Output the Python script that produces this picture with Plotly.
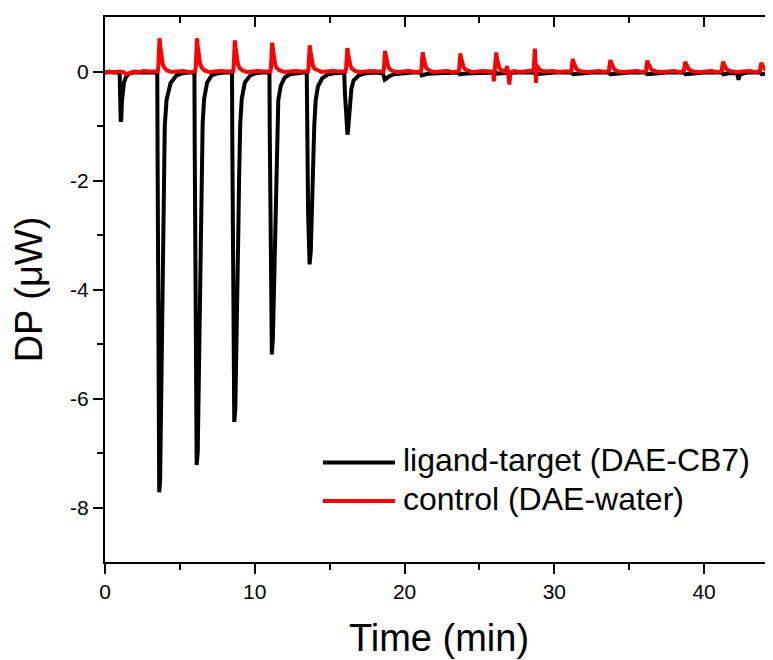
import plotly.graph_objects as go

# ---------------- data ----------------
# ligand-target (DAE-CB7): (time min, DP uW)
black_points = [
    (0.0, -0.02), (0.4, -0.01), (0.8, -0.02), (0.98, -0.03),
    (1.01, -0.45), (1.05, -0.92), (1.09, -0.88), (1.13, -0.55), (1.19, -0.32), (1.27, -0.2),
    (1.4, -0.1), (1.6, -0.04), (1.9, -0.02), (2.4, -0.02), (2.9, -0.01), (3.3, -0.02), (3.49, -0.02),
    (3.51, -1.5), (3.55, -5.0), (3.62, -7.72), (3.68, -7.5), (3.75, -6.2), (3.81, -4.6), (3.87, -3.3),
    (3.91, -2.3), (3.94, -1.6), (3.99, -1.0), (4.11, -0.52), (4.38, -0.21), (4.78, -0.07), (5.2, -0.03),
    (5.6, -0.02), (5.97, -0.02),
    (5.99, -1.4), (6.04, -4.8), (6.12, -7.22), (6.19, -7.0), (6.27, -5.6), (6.34, -4.1), (6.40, -2.9),
    (6.44, -2.0), (6.47, -1.45), (6.52, -0.95), (6.62, -0.5), (6.82, -0.2), (7.12, -0.07), (7.55, -0.03),
    (8.0, -0.02), (8.48, -0.02),
    (8.50, -1.3), (8.55, -4.3), (8.63, -6.43), (8.70, -6.2), (8.78, -5.2), (8.85, -3.9), (8.91, -2.8),
    (8.95, -2.0), (8.98, -1.4), (9.03, -0.95), (9.13, -0.5), (9.34, -0.2), (9.7, -0.07), (10.1, -0.03),
    (10.5, -0.02), (10.98, -0.02),
    (11.0, -1.1), (11.06, -3.6), (11.14, -5.19), (11.21, -4.9), (11.29, -3.9), (11.35, -2.9),
    (11.40, -2.1), (11.44, -1.5), (11.48, -1.0), (11.57, -0.52), (11.74, -0.26), (12.0, -0.11),
    (12.35, -0.05), (12.8, -0.03), (13.2, -0.02), (13.47, -0.02),
    (13.49, -0.9), (13.56, -2.6), (13.66, -3.54), (13.74, -3.3), (13.81, -2.6), (13.87, -1.9),
    (13.92, -1.4), (13.97, -1.0), (14.07, -0.52), (14.22, -0.27), (14.51, -0.12), (14.9, -0.05),
    (15.4, -0.03), (15.97, -0.02),
    (16.02, -0.4), (16.1, -0.95), (16.19, -1.16), (16.25, -1.0), (16.3, -0.75), (16.36, -0.5),
    (16.45, -0.32), (16.6, -0.16), (16.96, -0.07), (17.4, -0.03), (18.0, -0.02), (18.55, -0.03),
    (18.62, -0.1), (18.68, -0.15), (18.78, -0.13), (18.95, -0.09), (19.3, -0.05), (19.8, -0.03),
    (20.5, -0.02), (21.08, -0.02),
    (21.15, -0.07), (21.3, -0.06), (21.6, -0.04), (22.2, -0.03), (23.0, -0.02), (23.62, -0.02),
    (23.7, -0.05), (23.9, -0.04), (24.5, -0.03), (25.3, -0.02), (26.1, -0.02), (26.2, -0.04),
    (26.5, -0.03), (27.5, -0.02), (28.6, -0.02), (28.75, -0.05), (29.1, -0.04), (30.0, -0.02),
    (31.15, -0.02), (31.25, -0.05), (31.6, -0.04), (32.5, -0.02), (33.65, -0.02), (33.75, -0.05),
    (34.1, -0.04), (35.0, -0.02), (36.1, -0.02), (36.2, -0.05), (36.6, -0.04), (37.5, -0.02),
    (38.65, -0.02), (38.75, -0.05), (39.1, -0.04), (40.0, -0.02), (41.2, -0.02), (41.3, -0.05),
    (41.7, -0.03), (42.2, -0.03), (42.3, -0.15), (42.4, -0.05), (42.9, -0.02), (43.75, -0.02),
    (43.85, -0.05), (44.2, -0.04), (44.6, -0.02),
]

# control (DAE-water): (time min, DP uW)
red_points = [
    (0.0, -0.02), (0.3, 0.0), (0.6, -0.02), (0.9, 0.0), (1.2, -0.01), (1.45, -0.05), (1.7, -0.02),
    (2.0, 0.0), (2.3, -0.01), (2.6, 0.01), (3.0, 0.0), (3.3, 0.01), (3.52, 0.0),
    (3.56, 0.08), (3.60, 0.45), (3.64, 0.61), (3.69, 0.47), (3.76, 0.28), (3.85, 0.14), (3.96, 0.07),
    (4.15, 0.02), (4.45, -0.01), (4.8, 0.0), (5.2, 0.01), (5.6, -0.01), (6.02, 0.0),
    (6.06, 0.08), (6.10, 0.45), (6.14, 0.61), (6.19, 0.47), (6.26, 0.28), (6.35, 0.14), (6.46, 0.07),
    (6.65, 0.02), (6.95, -0.01), (7.3, 0.0), (7.7, 0.01), (8.1, 0.0), (8.55, 0.0),
    (8.59, 0.08), (8.63, 0.42), (8.67, 0.57), (8.72, 0.44), (8.79, 0.26), (8.88, 0.13), (8.99, 0.06),
    (9.18, 0.02), (9.48, -0.01), (9.8, 0.0), (10.2, 0.01), (10.6, 0.0), (11.05, 0.0),
    (11.08, 0.07), (11.12, 0.39), (11.16, 0.53), (11.21, 0.41), (11.28, 0.24), (11.37, 0.12),
    (11.48, 0.06), (11.67, 0.02), (11.97, -0.01), (12.3, 0.0), (12.7, 0.01), (13.1, 0.0), (13.55, 0.0),
    (13.59, 0.07), (13.63, 0.36), (13.67, 0.48), (13.72, 0.37), (13.79, 0.22), (13.88, 0.11),
    (13.99, 0.05), (14.18, 0.02), (14.48, -0.01), (14.8, 0.0), (15.2, 0.01), (15.6, 0.0), (16.05, 0.0),
    (16.1, 0.06), (16.14, 0.32), (16.18, 0.43), (16.23, 0.33), (16.3, 0.2), (16.39, 0.1), (16.5, 0.05),
    (16.69, 0.01), (17.0, -0.01), (17.4, 0.0), (17.8, 0.01), (18.2, 0.0), (18.58, 0.0),
    (18.62, 0.05), (18.66, 0.28), (18.7, 0.38), (18.75, 0.29), (18.82, 0.17), (18.91, 0.09),
    (19.02, 0.04), (19.2, 0.01), (19.5, -0.01), (19.9, 0.0), (20.3, 0.01), (20.7, -0.01), (21.08, 0.0),
    (21.13, 0.05), (21.17, 0.26), (21.21, 0.35), (21.26, 0.27), (21.33, 0.16), (21.42, 0.08),
    (21.53, 0.04), (21.72, 0.01), (22.0, -0.01), (22.4, 0.0), (22.8, 0.01), (23.2, -0.01), (23.6, 0.0),
    (23.65, 0.05), (23.69, 0.25), (23.73, 0.33), (23.78, 0.25), (23.85, 0.15), (23.94, 0.08),
    (24.05, 0.04), (24.24, 0.01), (24.5, -0.01), (24.9, 0.0), (25.3, 0.01), (25.7, 0.0), (25.92, 0.0),
    (25.96, -0.18), (26.0, 0.0), (26.08, 0.2), (26.12, 0.35), (26.17, 0.24), (26.24, 0.13),
    (26.33, 0.06), (26.45, 0.03), (26.6, 0.0), (26.78, 0.03), (26.85, 0.1), (26.9, 0.0), (27.0, -0.24),
    (27.06, -0.02), (27.3, 0.01), (27.7, -0.01), (28.1, 0.0), (28.5, 0.0), (28.62, 0.02),
    (28.66, 0.2), (28.7, 0.42), (28.74, 0.2), (28.78, -0.21), (28.82, 0.05), (28.9, 0.08), (29.0, 0.04),
    (29.2, 0.01), (29.5, 0.0), (29.9, 0.01), (30.3, -0.01), (30.7, 0.0), (31.1, 0.0),
    (31.15, 0.04), (31.19, 0.17), (31.23, 0.23), (31.29, 0.17), (31.37, 0.1), (31.47, 0.05),
    (31.6, 0.02), (31.8, 0.0), (32.2, -0.01), (32.6, 0.0), (33.0, 0.01), (33.3, -0.01), (33.6, 0.0),
    (33.66, 0.04), (33.7, 0.16), (33.74, 0.21), (33.8, 0.16), (33.88, 0.09), (33.98, 0.05),
    (34.1, 0.02), (34.3, 0.0), (34.7, -0.01), (35.1, 0.0), (35.5, 0.01), (35.8, -0.01), (36.1, 0.0),
    (36.13, 0.04), (36.17, 0.15), (36.21, 0.2), (36.27, 0.15), (36.35, 0.09), (36.45, 0.05),
    (36.57, 0.02), (36.8, 0.0), (37.2, -0.01), (37.6, 0.0), (38.0, 0.01), (38.3, -0.01), (38.6, 0.0),
    (38.66, 0.03), (38.7, 0.14), (38.74, 0.18), (38.8, 0.14), (38.88, 0.08), (38.98, 0.04),
    (39.1, 0.02), (39.3, 0.0), (39.7, -0.01), (40.1, 0.0), (40.5, 0.01), (40.8, -0.01), (41.15, 0.0),
    (41.18, 0.03), (41.22, 0.14), (41.26, 0.18), (41.32, 0.14), (41.4, 0.08), (41.5, 0.04),
    (41.62, 0.02), (41.85, 0.0), (42.2, -0.01), (42.6, 0.0), (43.0, 0.01), (43.4, -0.01), (43.7, 0.0),
    (43.74, 0.03), (43.78, 0.12), (43.82, 0.16), (43.88, 0.12), (43.96, 0.07), (44.06, 0.04),
    (44.18, 0.02), (44.4, 0.0), (44.8, -0.01),
]

black_time = [p[0] for p in black_points]
black_dp = [p[1] for p in black_points]
red_time = [p[0] for p in red_points]
red_dp = [p[1] for p in red_points]

series_names = ["ligand-target (DAE-CB7)", "control (DAE-water)"]
series_colors = ["#000000", "#ff0000"]

x_ticks = [0, 10, 20, 30, 40]
y_ticks = [-8, -6, -4, -2, 0]
y_tick_labels = ["-8", "-6", "-4", "-2", "0"]
y_minor_ticks = [-7, -5, -3, -1]
x_range = [0, 44.6]
y_range = [-9, 1]

FONT = "Liberation Sans, Arial, sans-serif"

fig = go.Figure()
fig.add_trace(go.Scatter(x=black_time, y=black_dp, mode="lines", name=series_names[0],
                         line=dict(color=series_colors[0], width=4), showlegend=False))
fig.add_trace(go.Scatter(x=red_time, y=red_dp, mode="lines", name=series_names[1],
                         line=dict(color=series_colors[1], width=4), showlegend=False))
# helper (empty) trace so the top mirror axis is drawn
fig.add_trace(go.Scatter(x=[None], y=[None], xaxis="x2", yaxis="y", showlegend=False,
                         hoverinfo="skip"))

axis_common = dict(showgrid=False, zeroline=False, showline=True, linecolor="black",
                   linewidth=2, tickcolor="black", tickwidth=2, automargin=False)

# the page body has an 8px default margin, so the figure margins compensate for it
fig.update_layout(
    width=773, height=660,
    margin=dict(l=97, r=8, t=9, b=106),
    plot_bgcolor="white", paper_bgcolor="white",
    font=dict(family=FONT, color="black"),
    showlegend=False,
    xaxis=dict(
        range=x_range, tickmode="array", tickvals=x_ticks,
        ticks="outside", ticklen=10,
        minor=dict(tickmode="linear", tick0=0, dtick=5, ticks="outside", ticklen=6,
                   tickwidth=2, tickcolor="black"),
        tickfont=dict(size=21, family=FONT, color="black"),
        title=dict(text="Time (min)", font=dict(size=38, family=FONT, color="black"), standoff=22),
        **axis_common,
    ),
    xaxis2=dict(
        range=x_range, overlaying="x", side="top", tickmode="array", tickvals=x_ticks,
        ticks="inside", ticklen=10, showticklabels=False,
        minor=dict(tickmode="linear", tick0=0, dtick=5, ticks="inside", ticklen=6,
                   tickwidth=2, tickcolor="black"),
        **axis_common,
    ),
    yaxis=dict(
        range=y_range, tickmode="array", tickvals=y_ticks, ticktext=y_tick_labels,
        ticks="outside", ticklen=10,
        minor=dict(tickmode="array", tickvals=y_minor_ticks, ticks="outside", ticklen=6,
                   tickwidth=2, tickcolor="black"),
        tickfont=dict(size=21, family=FONT, color="black"),
        title=dict(text="DP (μW)", font=dict(size=38, family=FONT, color="black"), standoff=27),
        **axis_common,
    ),
)

# manual legend (paper coordinates derived from the plot-area pixel layout)
def px_to_paper_x(px):
    return (px - 105) / 668.0

def px_to_paper_y(py):
    return (562 - py) / 545.0

legend_rows_y = [462.5, 501]
legend_text_y = [460, 499]
for name, color, ly, ty in zip(series_names, series_colors, legend_rows_y, legend_text_y):
    fig.add_shape(type="line", xref="paper", yref="paper",
                  x0=px_to_paper_x(323), x1=px_to_paper_x(395),
                  y0=px_to_paper_y(ly), y1=px_to_paper_y(ly),
                  line=dict(color=color, width=4))
    fig.add_annotation(xref="paper", yref="paper", x=px_to_paper_x(401), y=px_to_paper_y(ty),
                       xanchor="left", yanchor="middle", text=name, showarrow=False,
                       font=dict(size=32, family=FONT, color="black"))

fig.write_html("out.html")
